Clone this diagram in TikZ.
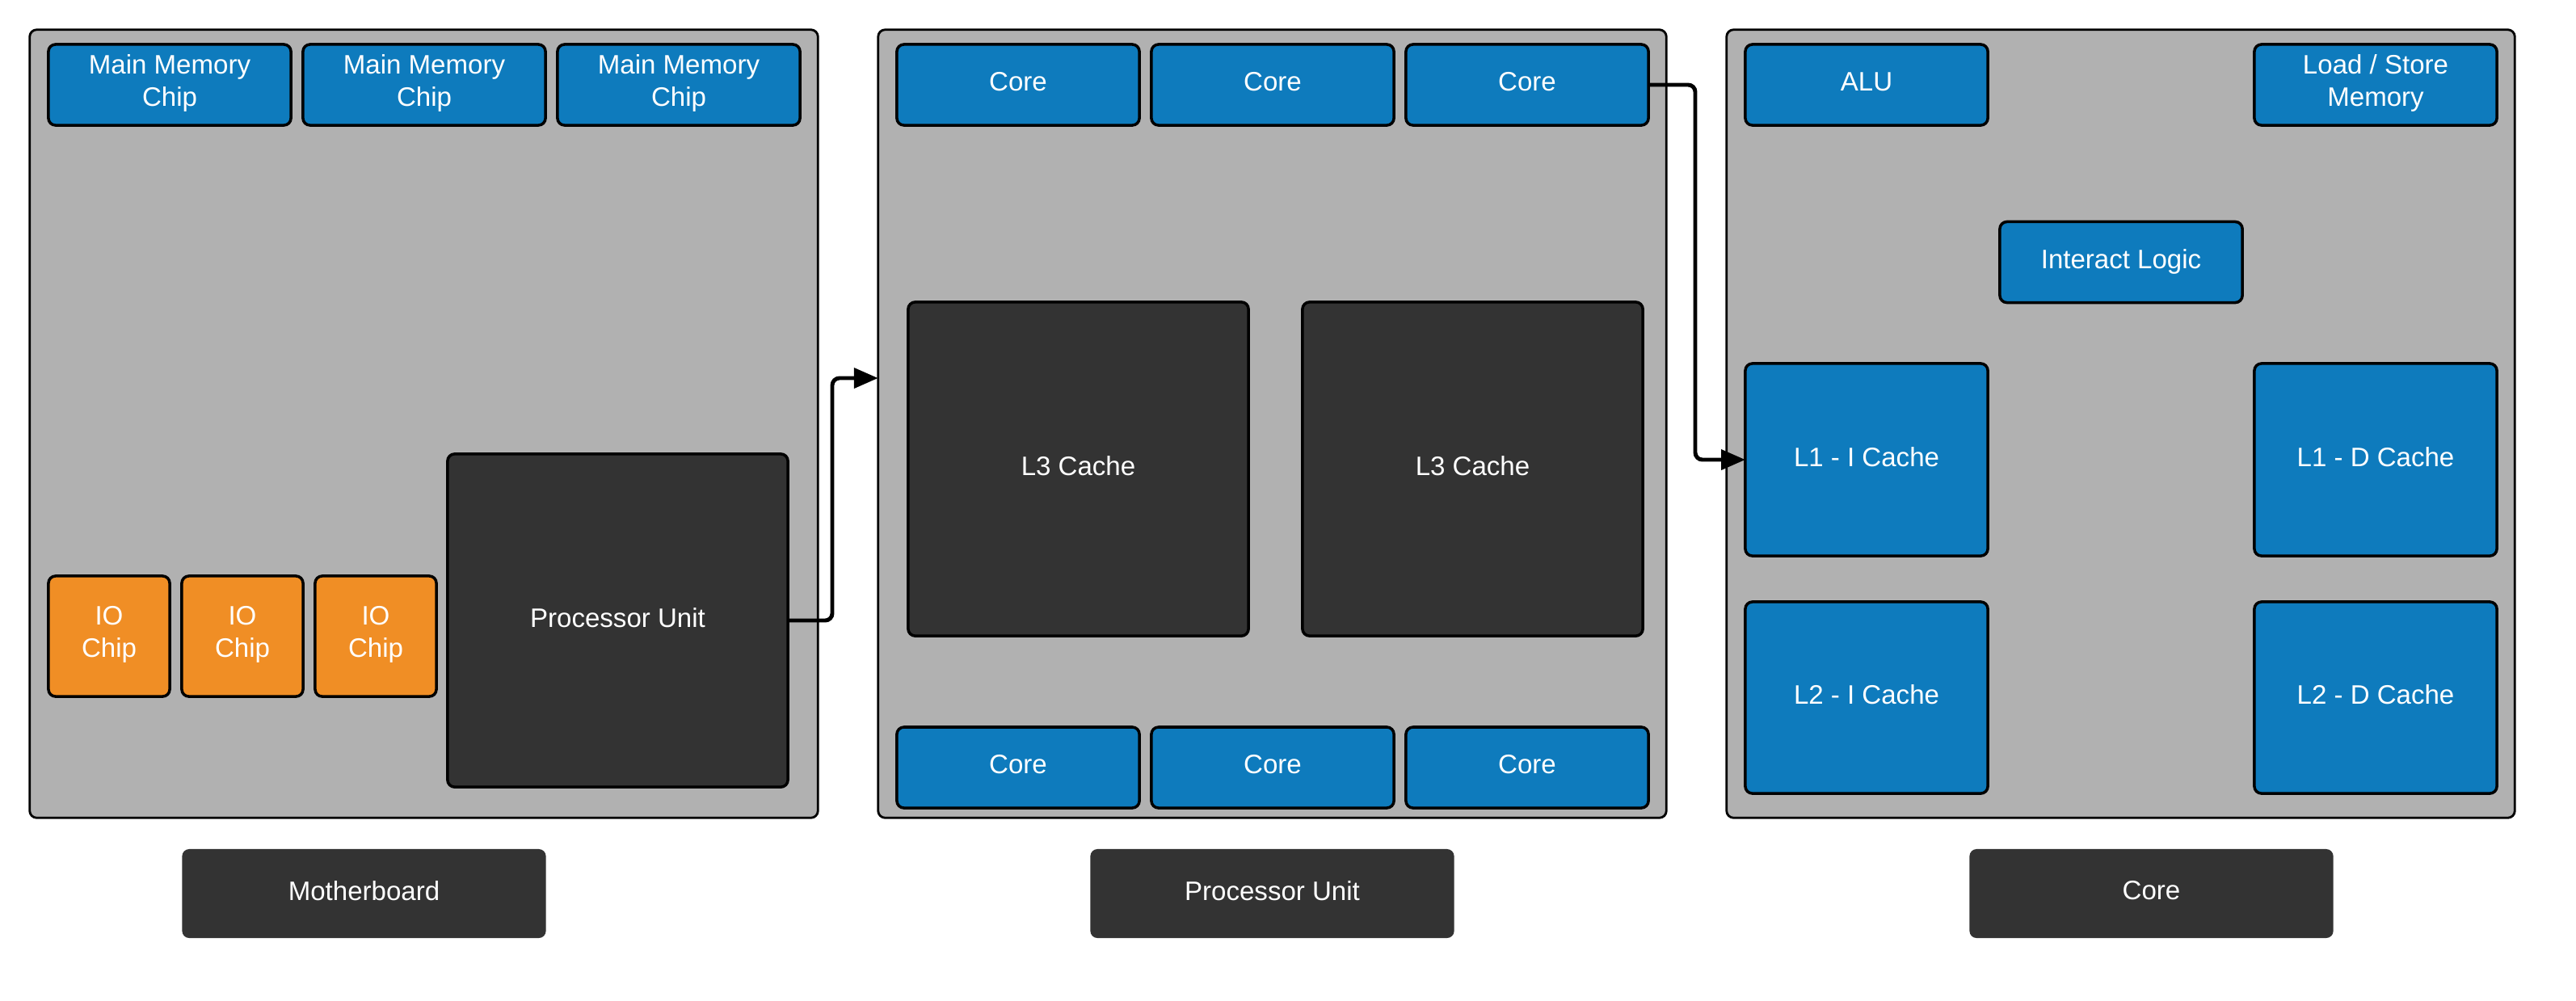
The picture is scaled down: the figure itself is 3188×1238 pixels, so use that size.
\documentclass[tikz,border=0pt]{standalone}
\usepackage{fontspec}
\setmainfont{Liberation Sans}
\usetikzlibrary{arrows.meta}
\definecolor{boardgray}{HTML}{B1B1B1}
\definecolor{chipblue}{HTML}{0E7BBD}
\definecolor{ioorange}{HTML}{F08E25}
\definecolor{darkbox}{HTML}{333333}

\begin{document}
\begin{tikzpicture}[x=0.01cm,y=-0.01cm,
  panel/.style={draw,line width=0.8pt,fill=boardgray,rounded corners=2.5pt,minimum width=9.75cm,minimum height=9.75cm,inner sep=0pt,outer sep=0pt},
  part/.style={draw,line width=1pt,rounded corners=2.5pt,text=white,align=center,inner sep=0pt,outer sep=0pt,text depth=2.2pt,font=\fontsize{9.4}{11.2}\selectfont},
  lowtext/.style={text depth=3.2pt},
  chip/.style={part,fill=chipblue,minimum width=3cm,minimum height=1cm},
  iochip/.style={part,fill=ioorange,minimum width=1.5cm,minimum height=1.49cm},
  darkpart/.style={part,fill=darkbox},
  title/.style={fill=darkbox,rounded corners=2.5pt,text=white,inner sep=0pt,outer sep=0pt,minimum width=4.5cm,minimum height=1.1cm,text depth=2.2pt,font=\fontsize{9.4}{11.2}\selectfont},
  flow/.style={draw,line width=1.4pt,rounded corners=2.5pt,-{Stealth[inset=0pt,length=8.5pt,width=7pt]}}]

\useasboundingbox (0,0) rectangle (3188,1238);

\node[panel] (board) at (524.5,524.5) {};
\node[panel] (proc) at (1574.5,524.5) {};
\node[panel] (core) at (2624.5,524.5) {};

\node[chip,lowtext] (mem1) at (210,105) {Main Memory\\Chip};
\node[chip,lowtext] (mem2) at (525,105) {Main Memory\\Chip};
\node[chip,lowtext] (mem3) at (840,105) {Main Memory\\Chip};
\node[iochip,lowtext] (io1) at (135,787.5) {IO\\Chip};
\node[iochip,lowtext] (io2) at (300,787.5) {IO\\Chip};
\node[iochip,lowtext] (io3) at (465,787.5) {IO\\Chip};
\node[darkpart,minimum width=4.21cm,minimum height=4.12cm] (pu) at (764.5,768) {Processor Unit};
\node[title] (boardname) at (450.5,1106) {Motherboard};

\node[chip] (ctop1) at (1260,105) {Core};
\node[chip] (ctop2) at (1575,105) {Core};
\node[chip] (ctop3) at (1890,105) {Core};
\node[darkpart,minimum width=4.21cm,minimum height=4.13cm] (lthree1) at (1334.5,580.5) {L3 Cache};
\node[darkpart,minimum width=4.21cm,minimum height=4.13cm] (lthree2) at (1822.5,580.5) {L3 Cache};
\node[chip] (cbot1) at (1260,950) {Core};
\node[chip] (cbot2) at (1575,950) {Core};
\node[chip] (cbot3) at (1890,950) {Core};
\node[title] (procname) at (1574.5,1106) {Processor Unit};

\node[chip] (alu) at (2310,105) {ALU};
\node[chip,lowtext] (ldst) at (2940,105) {Load / Store\\Memory};
\node[chip] (logic) at (2625,324.5) {Interact Logic};
\node[chip,minimum height=2.38cm] (lonei) at (2310,569) {L1 - I Cache};
\node[chip,minimum height=2.38cm] (loned) at (2940,569) {L1 - D Cache};
\node[chip,minimum height=2.37cm] (ltwoi) at (2310,863.5) {L2 - I Cache};
\node[chip,minimum height=2.37cm] (ltwod) at (2940,863.5) {L2 - D Cache};
\node[title] (corename) at (2662.5,1106) {Core};

\coordinate (jogA) at (1030,468);
\coordinate (jogB) at (2098,0);
\draw[flow] (pu.east) -| (jogA) -- (jogA -| proc.west);
\draw[flow] (ctop3.east) -| (jogB |- lonei.west) -- (lonei.west);

\end{tikzpicture}
\end{document}
